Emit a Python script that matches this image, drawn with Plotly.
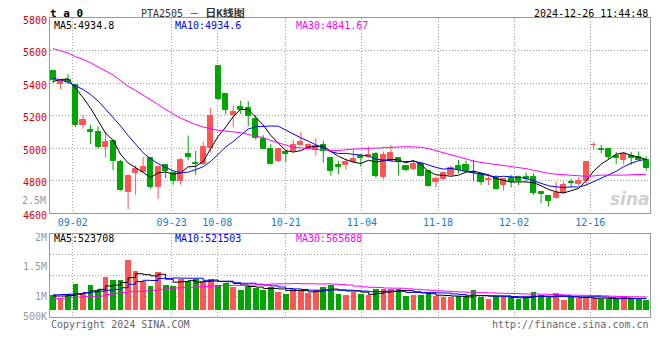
import plotly.graph_objects as go

# ---------------- data ----------------
dates = ["08-28", "08-29", "08-30",
         "09-02", "09-03", "09-04", "09-05", "09-06",
         "09-09", "09-10", "09-11", "09-12", "09-13",
         "09-18", "09-19", "09-20",
         "09-23", "09-24", "09-25", "09-26", "09-27",
         "09-30",
         "10-08", "10-09", "10-10", "10-11",
         "10-14", "10-15", "10-16", "10-17", "10-18",
         "10-21", "10-22", "10-23", "10-24", "10-25",
         "10-28", "10-29", "10-30", "10-31", "11-01",
         "11-04", "11-05", "11-06", "11-07", "11-08",
         "11-11", "11-12", "11-13", "11-14", "11-15",
         "11-18", "11-19", "11-20", "11-21", "11-22",
         "11-25", "11-26", "11-27", "11-28", "11-29",
         "12-02", "12-03", "12-04", "12-05", "12-06",
         "12-09", "12-10", "12-11", "12-12", "12-13",
         "12-16", "12-17", "12-18", "12-19", "12-20",
         "12-23", "12-24", "12-25", "12-26"]

opens = [5475, 5396, 5420, 5390, 5141, 5114, 5100, 5009, 5042, 4918,
         4733, 4847, 4853, 4939, 4764, 4898, 4848, 4799, 4962, 4912,
         4905, 5000, 5505, 5336, 5206, 5254, 5248, 5180, 5054, 4997,
         4922, 4974, 4984, 5017, 5001, 4990, 5021, 4939, 4898, 4894,
         4914, 4951, 4947, 4966, 4826, 4923, 4941, 4892, 4873, 4902,
         4857, 4795, 4811, 4836, 4892, 4898, 4853, 4843, 4807, 4815,
         4774, 4815, 4822, 4824, 4820, 4733, 4707, 4696, 4727, 4791,
         4783, 4799, 5017, 4995, 4997, 4955, 4929, 4953, 4949, 4927]
highs = [5480, 5414, 5455, 5395, 5206, 5145, 5135, 5099, 5045, 4929,
         4840, 4894, 4947, 4942, 4890, 4900, 4852, 4941, 5077, 4984,
         5040, 5250, 5510, 5340, 5262, 5293, 5289, 5206, 5080, 5025,
         5000, 4990, 5052, 5100, 5030, 5062, 5046, 4945, 4923, 4935,
         4997, 4966, 5011, 4976, 4980, 5021, 4945, 4895, 4923, 4914,
         4860, 4826, 4853, 4892, 4929, 4923, 4929, 4848, 4843, 4836,
         4815, 4836, 4832, 4850, 4846, 4735, 4710, 4791, 4795, 4811,
         4820, 4923, 5038, 5021, 5000, 4976, 4976, 4978, 4980, 4949]
lows = [5400, 5365, 5395, 5132, 5120, 5025, 4995, 4943, 4865, 4738,
        4626, 4713, 4850, 4750, 4688, 4816, 4775, 4777, 4925, 4836,
        4895, 4970, 5298, 5206, 5130, 5210, 5134, 5052, 4995, 4900,
        4915, 4916, 4973, 5012, 4995, 4955, 4912, 4832, 4840, 4867,
        4910, 4888, 4940, 4816, 4811, 4918, 4832, 4857, 4867, 4826,
        4764, 4758, 4805, 4830, 4846, 4855, 4795, 4774, 4774, 4744,
        4740, 4758, 4774, 4795, 4713, 4661, 4641, 4690, 4720, 4758,
        4770, 4774, 4986, 4968, 4933, 4904, 4898, 4898, 4925, 4863]
closes = [5422, 5412, 5405, 5140, 5176, 5098, 5010, 5038, 4923, 4744,
          4832, 4873, 4886, 4764, 4886, 4863, 4800, 4929, 4949, 4902,
          5010, 5200, 5305, 5233, 5223, 5233, 5196, 5063, 4997, 4904,
          4997, 4964, 5021, 5038, 5017, 5011, 4980, 4857, 4886, 4914,
          4935, 4937, 4957, 4832, 4960, 4972, 4921, 4865, 4904, 4832,
          4770, 4811, 4848, 4877, 4865, 4863, 4845, 4795, 4811, 4750,
          4809, 4795, 4799, 4811, 4723, 4721, 4678, 4727, 4774, 4785,
          4801, 4918, 5021, 4986, 4949, 4939, 4966, 4939, 4929, 4877]
volumes = [683000, 539000, 726000, 1161000, 770000, 1118000, 870000, 1466000, 1335000, 1335000,
           2175000, 1727000, 1262000, 1074000, 1683000, 1118000, 1074000, 1366000, 1292000, 1366000,
           1262000, 1379000, 1101000, 1188000, 1014000, 900000, 1074000, 957000, 900000, 1014000,
           783000, 726000, 944000, 900000, 740000, 900000, 1031000, 1118000, 726000, 683000,
           783000, 726000, 653000, 931000, 931000, 931000, 931000, 639000, 683000, 683000,
           750000, 609000, 579000, 579000, 610000, 610000, 900000, 579000, 509000, 610000,
           610000, 579000, 492000, 579000, 820000, 653000, 579000, 740000, 465000, 579000,
           520000, 600000, 539000, 492000, 492000, 492000, 620000, 539000, 492000, 460000]

ma5_head = [5410, 5422, 5426, 5372]
ma10_head = [5430, 5420, 5405, 5385, 5361, 5330, 5290, 5240, 5190]
ma30_head = [5612, 5600, 5585, 5562, 5546, 5525, 5500, 5475, 5450, 5415,
             5380, 5355, 5325, 5295, 5265, 5235, 5210, 5185, 5165, 5145,
             5130, 5118, 5110, 5105, 5100, 5095, 5085, 5077, 5065]
vma5_head = [640000, 640000, 660000, 720000]
vma10_head = [690000, 705000, 720000, 750000, 783000, 815000, 850000, 890000, 930000]
vma30_head = [539000, 550000, 566000, 590000, 609000, 625000, 639000, 700000, 757000, 790000,
              827000, 842000, 857000, 890000, 930000, 974000, 990000, 1005000, 1020000, 1044000,
              1060000, 1074000, 1085000, 1095000, 1103000, 1110000, 1118000, 1125000, 1130000]

tick_dates = ["09-02", "09-23", "10-08", "10-21", "11-04", "11-18", "12-02", "12-16"]
price_ticks = [4600, 4800, 5000, 5200, 5400, 5600, 5800]
vol_ticktext = ["2M", "1.5M", "1M", "500K"]

legend_price = ["MA5:4934.8", "MA10:4934.6", "MA30:4841.67"]
legend_vol = ["MA5:523708", "MA10:521503", "MA30:565688"]

# ---------------- helpers ----------------
def moving_avg(vals, n, head):
    out = []
    for i in range(len(vals)):
        if i >= n - 1:
            out.append(sum(vals[i - n + 1:i + 1]) / n)
        else:
            out.append(head[i])
    return out

RED = "#ff5555"
GREEN = "#00a600"
MONO = "DejaVu Sans Mono"
GRID = "#a8a8a8"
BORDER = "#9a9a9a"
DOT = "1px,2px"

n = len(dates)
xs = list(range(n))
up = [c >= o for o, c in zip(opens, closes)]
colors = [RED if u else GREEN for u in up]

ma5 = moving_avg(closes, 5, ma5_head)
ma10 = moving_avg(closes, 10, ma10_head)
ma30 = moving_avg(closes, 30, ma30_head)
vma5 = moving_avg(volumes, 5, vma5_head)
vma10 = moving_avg(volumes, 10, vma10_head)
vma30 = moving_avg(volumes, 30, vma30_head)

fig = go.Figure()

# wicks
for flag, col in ((True, RED), (False, GREEN)):
    wx, wy = [], []
    for i in xs:
        if up[i] == flag:
            wx += [i, i, None]
            wy += [lows[i], highs[i], None]
    fig.add_trace(go.Scatter(x=wx, y=wy, mode="lines", line=dict(color=col, width=1),
                             xaxis="x", yaxis="y", hoverinfo="skip", showlegend=False))

# bodies
fig.add_trace(go.Bar(x=xs, y=[abs(c - o) for o, c in zip(opens, closes)],
                     base=[min(o, c) for o, c in zip(opens, closes)],
                     width=0.68, marker=dict(color=colors, line=dict(color=colors, width=1)),
                     xaxis="x", yaxis="y", showlegend=False))

for series, col in ((ma5, "#000000"), (ma10, "#0000ff"), (ma30, "#ff00ff")):
    fig.add_trace(go.Scatter(x=xs, y=series, mode="lines", line=dict(color=col, width=1),
                             xaxis="x", yaxis="y", showlegend=False))

# volume
fig.add_trace(go.Bar(x=xs, y=volumes, width=0.76, marker=dict(color=colors, line=dict(width=0)),
                     xaxis="x2", yaxis="y2", showlegend=False))
for series, col in ((vma5, "#000000"), (vma10, "#0000ff"), (vma30, "#ff00ff")):
    fig.add_trace(go.Scatter(x=xs, y=series, mode="lines", line=dict(color=col, width=1, shape="hv"),
                             xaxis="x2", yaxis="y2", showlegend=False))

# ---------------- layout ----------------
# the page body keeps its default 8px margin, so the figure is drawn 8px in from the window edge
OFF = 8
W, H = 660 - OFF, 360 - OFF
ML, MR, MT, MB = 50 - OFF, 10, 18 - OFF, 43
PW, PH = W - ML - MR, H - MT - MB

def fx(px):
    return (px - OFF - ML) / PW

def fy(py):
    return (H - MB - (py - OFF)) / PH

grid_pos = [dates.index(d) * 1.0133 - 0.41 for d in tick_dates]
xrange_ = [-0.4, 79.5]

vol_lo, vol_hi = -274000, 3323000
vol_label_frac = [1.0, 0.645, 0.29, 0.04]
vol_tickvals = [vol_lo + f * (vol_hi - vol_lo) for f in vol_label_frac]
vol_grid = [vol_lo + j * (vol_hi - vol_lo) / 4 for j in (1, 2, 3)]

common_x = dict(range=xrange_, tickmode="array", tickvals=grid_pos, showgrid=True,
                gridcolor=GRID, griddash=DOT, gridwidth=1, zeroline=False, automargin=False,
                showline=True, mirror=True, linecolor=BORDER, linewidth=1, ticks="")

fig.update_layout(
    width=W, height=H, margin=dict(l=ML, r=MR, t=MT, b=MB, autoexpand=False),
    paper_bgcolor="white", plot_bgcolor="white", bargap=0, barmode="overlay",
    showlegend=False, hovermode=False,
    xaxis=dict(**common_x, domain=[0, 1], anchor="y", ticktext=tick_dates,
               tickfont=dict(family=MONO, size=10, color="#1a7ad0")),
    yaxis=dict(domain=[fy(213.3), 1], anchor="x", range=[4600, 5800], tickmode="array",
               tickvals=price_ticks, ticktext=[str(v) for v in price_ticks],
               tickfont=dict(family=MONO, size=10, color="#e00000"), ticklabelshift=2,
               showgrid=True, gridcolor=GRID, griddash=DOT, zeroline=False, automargin=False,
               showline=True, mirror=True, linecolor=BORDER, linewidth=1, ticks=""),
    xaxis2=dict(**common_x, domain=[0, 1], anchor="y2", matches="x", showticklabels=False),
    yaxis2=dict(domain=[0, fy(234.3)], anchor="x2", range=[vol_lo, vol_hi], tickmode="array",
                tickvals=vol_tickvals, ticktext=vol_ticktext, ticklabelshift=3,
                tickfont=dict(family=MONO, size=10, color="#999999"), automargin=False,
                showgrid=False, zeroline=False, showline=True, mirror=True,
                linecolor=BORDER, linewidth=1, ticks="",
                minor=dict(tickmode="array", tickvals=vol_grid, showgrid=True,
                           gridcolor=GRID, griddash=DOT, gridwidth=1, ticks="")),
)

ann = []
def text(x, y, s, color="#000000", size=10, anchor="left", family=MONO, **kw):
    ann.append(dict(xref="paper", yref="paper", x=fx(x), y=fy(y), text=s, showarrow=False,
                    xanchor=anchor, yanchor="middle", font=dict(family=family, size=size, color=color),
                    borderpad=0, **kw))

text(49, 13.0, "<b>t a 0</b>", size=11)
text(139.5, 12.9, "PTA2505 － <b><span style='font-size:11px'>日K线图</span></b>", color="#333333",
     size=10, family="DejaVu Sans Mono, Noto Sans CJK SC")
text(649, 13.2, "2024-12-26 11:44:48", anchor="right")
for s, col, x0 in zip(legend_price, ["#000000", "#0000ff", "#ff00ff"], [53, 174, 294.5]):
    text(x0, 25.2, s, color=col)
for s, col, x0 in zip(legend_vol, ["#000000", "#0000ff", "#ff00ff"], [53, 174, 294.5]):
    text(x0, 238.3, s, color=col)
text(47, 200.7, "2.5M", color="#999999", anchor="right")
text(49.5, 324.5, "Copyright 2024 SINA.COM", color="#666666")
text(649.5, 324.5, "http://finance.sina.com.cn", color="#666666", anchor="right")
text(651, 199, "<b><i>sina</i></b>", color="#d0d0d0", size=17, anchor="right", family="DejaVu Sans")
fig.update_layout(annotations=ann)

fig.write_html("out.html")
